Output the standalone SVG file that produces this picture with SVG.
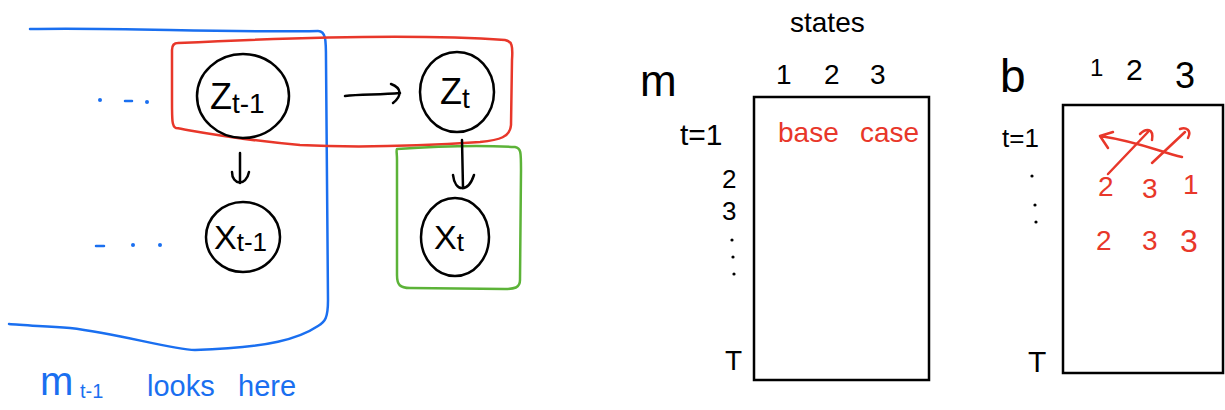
<svg xmlns="http://www.w3.org/2000/svg" width="1225" height="410" viewBox="0 0 1225 410">
<style>
.ink{fill:none;stroke:#000;stroke-width:2.5;stroke-linecap:round;stroke-linejoin:round}
.blue{fill:none;stroke:#1a6ff0;stroke-width:2.5;stroke-linecap:round;stroke-linejoin:round}
.red{fill:none;stroke:#e8372a;stroke-width:2.5;stroke-linecap:round;stroke-linejoin:round}
.green{fill:none;stroke:#5cb338;stroke-width:2.5;stroke-linecap:round;stroke-linejoin:round}
.t{font-family:"Liberation Sans",Arial,sans-serif;fill:#000}
.tb{font-family:"Liberation Sans",Arial,sans-serif;fill:#1a6ff0}
.tr{font-family:"Liberation Sans",Arial,sans-serif;fill:#e8372a}
.dot{fill:#1a6ff0}
</style>
<g id="plate-blue">
<path class="blue" d="M30,29 C120,27 220,33 318,31 C326,31 326,40 326,60 L328,300 C328,318 325,322 318,326 C300,338 270,348 195,350 C170,349 120,334 70,328 C40,326 20,325 9,324"/>
<circle class="dot" cx="100" cy="100" r="2"/>
<path class="blue" d="M125,101 L132,101"/>
<circle class="dot" cx="147" cy="102" r="2"/>
<path class="blue" d="M96,246 L104,246"/>
<circle class="dot" cx="133" cy="245" r="2"/>
<circle class="dot" cx="160" cy="245" r="2"/>
<text class="tb" x="40" y="395" font-size="40">m</text>
<text class="tb" x="80" y="398" font-size="20">t-1</text>
<text class="tb" x="147" y="396" font-size="29">looks</text>
<text class="tb" x="238" y="396" font-size="29">here</text>
</g>
<g id="box-red">
<path class="red" d="M178,43 C280,38 420,34 505,40 C512,41 513,46 512,60 L511,125 C510,137 500,140 480,142 C420,146 360,148 300,145 C240,140 200,132 176,128 C172,127 172,120 172,100 L172,50 C172,45 174,43 178,43"/>
</g>
<g id="box-green">
<path class="green" d="M397,149 C440,146 480,145 515,147 C521,148 521,152 521,170 L520,280 C520,288 514,289 505,289 L410,288 C400,288 397,285 397,275 L397,160 C397,153 396,150 397,149"/>
</g>
<g id="node-z-prev">
<ellipse class="ink" cx="243" cy="96" rx="46" ry="42"/>
<text class="t" x="210" y="109" font-size="36">Z<tspan font-size="28" dy="4">t-1</tspan></text>
</g>
<g id="node-z">
<ellipse class="ink" cx="457" cy="92" rx="37" ry="40"/>
<text class="t" x="440" y="104" font-size="36">Z<tspan font-size="28" dy="4">t</tspan></text>
</g>
<g id="node-x-prev">
<ellipse class="ink" cx="243" cy="237" rx="37" ry="35"/>
<text class="t" x="214" y="249" font-size="34">X<tspan font-size="26" dy="2">t-1</tspan></text>
</g>
<g id="node-x">
<ellipse class="ink" cx="455" cy="237" rx="34" ry="39"/>
<text class="t" x="434" y="249" font-size="34">X<tspan font-size="26" dy="2">t</tspan></text>
</g>
<g id="connectors">
<path class="ink" d="M240,153 L240,183 M232,172 C232,185 246,187 249,172"/>
<path class="ink" d="M345,96 C360,94 380,95 400,93 M391,84 C402,88 402,96 393,103"/>
<path class="ink" d="M462,140 L463,188 M453,175 C455,192 468,193 474,175"/>
</g>
<g id="table-m">
<text class="t" x="790" y="32" font-size="28">states</text>
<text class="t" x="640" y="96" font-size="44">m</text>
<text class="t" x="776" y="84" font-size="28">1</text>
<text class="t" x="824" y="84" font-size="28">2</text>
<text class="t" x="870" y="84" font-size="28">3</text>
<rect x="754" y="97" width="175" height="283" fill="none" stroke="#000" stroke-width="2.5"/>
<text class="t" x="680" y="145" font-size="30">t=1</text>
<text class="tr" x="778" y="142" font-size="28">base</text>
<text class="tr" x="860" y="142" font-size="28">case</text>
<text class="t" x="722" y="188" font-size="26">2</text>
<text class="t" x="722" y="220" font-size="26">3</text>
<circle cx="732" cy="240" r="1.6" fill="#000"/>
<circle cx="733" cy="257" r="1.6" fill="#000"/>
<circle cx="734" cy="274" r="1.6" fill="#000"/>
<text class="t" x="725" y="370" font-size="28">T</text>
</g>
<g id="table-b">
<text class="t" x="1000" y="92" font-size="46">b</text>
<text class="t" x="1090" y="76" font-size="24">1</text>
<text class="t" x="1126" y="80" font-size="30">2</text>
<text class="t" x="1175" y="88" font-size="36">3</text>
<rect x="1063" y="105" width="160" height="268" fill="none" stroke="#000" stroke-width="2.5"/>
<text class="t" x="1002" y="147" font-size="26">t=1</text>
<circle cx="1032" cy="176" r="1.6" fill="#000"/>
<circle cx="1035" cy="205" r="1.6" fill="#000"/>
<circle cx="1036" cy="222" r="1.6" fill="#000"/>
<text class="t" x="1028" y="372" font-size="30">T</text>
<text class="tr" x="1098" y="196" font-size="28">2</text>
<text class="tr" x="1142" y="198" font-size="28">3</text>
<text class="tr" x="1183" y="194" font-size="28">1</text>
<text class="tr" x="1096" y="250" font-size="28">2</text>
<text class="tr" x="1142" y="250" font-size="28">3</text>
<text class="tr" x="1180" y="252" font-size="32">3</text>
<path class="red" d="M1108,174 L1148,132 M1140,134 C1146,128 1154,128 1152,140"/>
<path class="red" d="M1152,163 L1185,132 M1180,129 C1186,127 1192,130 1188,138"/>
<path class="red" d="M1182,157 C1160,152 1140,142 1100,136 M1100,136 L1113,132 M1100,136 L1108,148"/>
</g>
</svg>
